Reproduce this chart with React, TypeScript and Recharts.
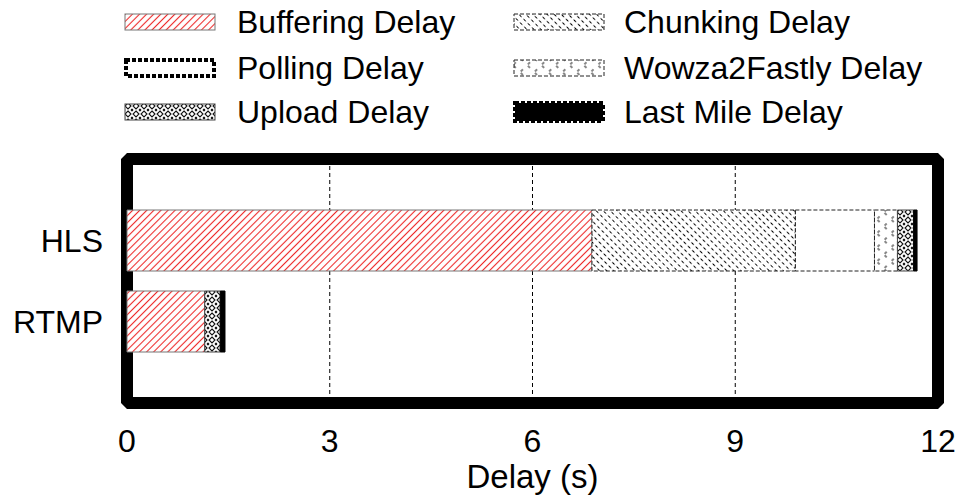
import { BarChart, Bar, XAxis, YAxis, CartesianGrid, ReferenceArea, Label } from 'recharts';

document.body.style.margin = '0';

const categories = ['HLS', 'RTMP'];
const bufferingDelay = [6.88, 1.15];
const chunkingDelay = [3.01, 0];
const pollingDelay = [1.17, 0];
const wowzaDelay = [0.34, 0];
const uploadDelay = [0.24, 0.23];
const lastMileDelay = [0.05, 0.07];
const xTicks = [0, 3, 6, 9, 12];

const data = categories.map((name, i) => ({
  name,
  buffering: bufferingDelay[i],
  chunking: chunkingDelay[i],
  polling: pollingDelay[i],
  wowza: wowzaDelay[i],
  upload: uploadDelay[i],
  lastMile: lastMileDelay[i],
}));

const FONT = '"Liberation Sans", Arial, Helvetica, sans-serif';

// bar styles, in stacking order
const series = [
  { key: 'buffering', name: 'Buffering Delay', fill: 'url(#pBuf)', stroke: '#777', dash: undefined },
  { key: 'chunking', name: 'Chunking Delay', fill: 'url(#pChunk)', stroke: '#222', dash: '4 2' },
  { key: 'polling', name: 'Polling Delay', fill: '#fff', stroke: '#222', dash: '4 2' },
  { key: 'wowza', name: 'Wowza2Fastly Delay', fill: 'url(#pWowza)', stroke: '#222', dash: '4 2' },
  { key: 'upload', name: 'Upload Delay', fill: 'url(#pUpload)', stroke: '#444', dash: undefined },
  { key: 'lastMile', name: 'Last Mile Delay', fill: '#000', stroke: '#000', dash: undefined },
];

const Patterns = () => (
  <svg width={0} height={0} style={{ position: 'absolute' }}>
    <defs>
      <pattern id="pBuf" patternUnits="userSpaceOnUse" width="5" height="5" patternTransform="rotate(45)">
        <rect width="5" height="5" fill="#fff" />
        <line x1="2.5" y1="0" x2="2.5" y2="5" stroke="#ee2a2a" strokeWidth="1.1" />
      </pattern>
      <pattern id="pChunk" patternUnits="userSpaceOnUse" width="5" height="6" patternTransform="rotate(-45)">
        <rect width="5" height="6" fill="#fff" />
        <line x1="2.5" y1="0.5" x2="2.5" y2="3.5" stroke="#000" strokeWidth="1" />
      </pattern>
      <pattern id="pWowza" patternUnits="userSpaceOnUse" width="10" height="10" patternTransform="rotate(45)">
        <rect width="10" height="10" fill="#fff" />
        <line x1="5" y1="1" x2="5" y2="4" stroke="#111" strokeWidth="1" />
        <line x1="6" y1="5" x2="9" y2="5" stroke="#111" strokeWidth="1" />
      </pattern>
      <pattern id="pUpload" patternUnits="userSpaceOnUse" width="8" height="8">
        <rect width="8" height="8" fill="#fff" />
        <path d="M4 1 L7 4 L4 7 L1 4 Z" fill="none" stroke="#111" strokeWidth="1.1" />
        <path d="M0 0 L1 1 M8 0 L7 1 M0 8 L1 7 M8 8 L7 7" stroke="#111" strokeWidth="1.1" />
      </pattern>
    </defs>
  </svg>
);

const LegendIcon = ({ k }: { k: string }) => {
  const s = series.find((d) => d.key === k)!;
  if (k === 'polling') {
    return (
      <svg width={92} height={20}>
        <rect x={2} y={2} width={88} height={16} fill="#fff" stroke="#000" strokeWidth={4} strokeDasharray="4 2" />
      </svg>
    );
  }
  if (k === 'lastMile') {
    return (
      <svg width={92} height={22}>
        <rect x={2} y={2} width={88} height={18} fill="#000" stroke="#000" strokeWidth={4} strokeDasharray="4 2" />
      </svg>
    );
  }
  return (
    <svg width={92} height={20}>
      <rect x={1} y={2} width={90} height={16} fill={s.fill} stroke={s.stroke} strokeWidth={1} strokeDasharray={s.dash} />
    </svg>
  );
};

const legendRows = [
  ['buffering', 'chunking'],
  ['polling', 'wowza'],
  ['upload', 'lastMile'],
];
const rowY = [22, 68, 112];
const iconX = [124, 513];
const textX = [237, 624];

const ChartLegend = () => (
  <>
    {legendRows.map((row, r) =>
      row.map((k, c) => {
        const s = series.find((d) => d.key === k)!;
        return (
          <div key={k}>
            <div style={{ position: 'absolute', left: iconX[c], top: rowY[r] - 11, height: 22, display: 'flex', alignItems: 'center' }}>
              <LegendIcon k={k} />
            </div>
            <div style={{ position: 'absolute', left: textX[c], top: rowY[r] - 20, height: 40, lineHeight: '40px', fontSize: 32, fontFamily: FONT, color: '#000', whiteSpace: 'nowrap' }}>
              {s.name}
            </div>
          </div>
        );
      })
    )}
  </>
);

export default function App() {
  return (
    <div style={{ position: 'relative', width: 965, height: 496, background: '#fff' }}>
      <Patterns />
      <ChartLegend />
      <div style={{ position: 'absolute', left: 0, top: 0 }}>
        <BarChart
          width={965}
          height={496}
          data={data}
          layout="vertical"
          margin={{ top: 159, right: 27, left: 0, bottom: 0 }}
        >
          <CartesianGrid horizontal={false} stroke="#000" strokeDasharray="4 3" strokeWidth={1} />
          <XAxis
            type="number"
            domain={[0, 12]}
            ticks={xTicks}
            height={93}
            axisLine={false}
            tickLine={false}
            tickSize={0}
            tickMargin={26}
            tick={{ fontSize: 32, fontFamily: FONT, fill: '#000' }}
          >
            <Label value="Delay (s)" position="insideBottom" offset={8} style={{ fontSize: 33, fontFamily: FONT, fill: '#000' }} />
          </XAxis>
          <YAxis
            type="category"
            dataKey="name"
            width={127}
            padding={{ top: 41, bottom: 41 }}
            axisLine={false}
            tickLine={false}
            tickSize={0}
            tickMargin={24}
            tick={{ fontSize: 32, fontFamily: FONT, fill: '#000' }}
          />
          <YAxis yAxisId="frame" type="number" domain={[0, 1]} hide />
          <ReferenceArea
            yAxisId="frame"
            x1={0}
            x2={12}
            y1={0}
            y2={1}
            fill="none"
            stroke="#000"
            strokeWidth={12}
            strokeLinejoin="bevel"
            fillOpacity={0}
            zIndex={-50}
          />
          {series.map((s) => (
            <Bar
              key={s.key}
              dataKey={s.key}
              name={s.name}
              stackId="a"
              barSize={61}
              fill={s.fill}
              stroke={s.stroke}
              strokeWidth={1}
              strokeDasharray={s.dash}
              isAnimationActive={false}
            />
          ))}
        </BarChart>
      </div>
    </div>
  );
}
